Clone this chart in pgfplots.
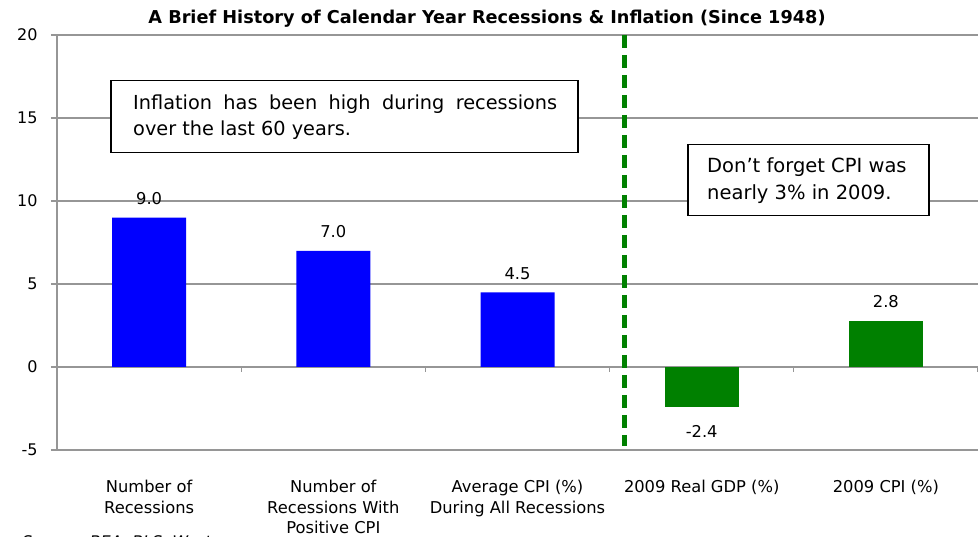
\documentclass[border=0pt]{standalone}
\usepackage{fontspec}
\setmainfont{DejaVu Sans}
\usepackage{pgfplots}
\pgfplotsset{compat=1.18}
\definecolor{barblue}{RGB}{0,0,255}
\definecolor{bargreen}{RGB}{0,128,0}
\definecolor{gridgray}{RGB}{150,150,150}
\begin{document}
\begin{tikzpicture}[x=1pt,y=1pt]
\useasboundingbox (0,0) rectangle (978,537);
\begin{axis}[
  at={(57pt,87pt)}, anchor=south west,
  scale only axis, width=921pt, height=415pt,
  xmin=-0.5, xmax=4.5, ymin=-5, ymax=20,
  ytick={-5,0,5,10,15,20},
  xtick={0,1,2,3,4},
  xticklabels={{Number of\\Recessions},{Number of\\Recessions With\\Positive CPI},{Average CPI (\%)\\During All Recessions},{2009 Real GDP (\%)},{2009 CPI (\%)}},
  xticklabel style={align=center, font=\fontsize{16.3}{20.5}\selectfont, yshift=-21pt},
  yticklabel style={font=\fontsize{16}{18}\selectfont, xshift=-10pt},
  /pgf/number format/assume math mode=true,
  axis x line*=bottom, axis y line*=left,
  x axis line style={draw=none},
  y axis line style={gridgray, line width=1.3pt, -},
  xtick style={draw=none},
  ytick style={gridgray, line width=1.3pt},
  tick align=outside, major tick length=6pt,
  ymajorgrids, grid style={gridgray, line width=1.3pt},
  ybar, bar width=74pt, bar shift=0pt,
  nodes near coords,
  nodes near coords align=vertical,
  every node near coord/.append style={font=\fontsize{16.3}{18}\selectfont, inner sep=0pt, outer sep=13pt, /pgf/number format/fixed, /pgf/number format/fixed zerofill, /pgf/number format/precision=1, /pgf/number format/assume math mode=true},
  clip=false,
]
\addplot[fill=barblue, draw=none] coordinates {(0,9.0) (1,7.0) (2,4.5)};
\addplot[fill=bargreen, draw=none, every node near coord/.append style={outer sep=19pt}] coordinates {(3,-2.4)};
\addplot[fill=bargreen, draw=none] coordinates {(4,2.8)};
\foreach \xx in {-0.5,0.5,1.5,2.5,3.5,4.5} {
  \edef\tmp{\noexpand\draw[gridgray, line width=1.3pt] (axis cs:\xx,0) -- ([yshift=-5pt]axis cs:\xx,0);}
  \tmp
}
\draw[bargreen, line width=5pt, dash pattern=on 13pt off 7pt] (axis cs:2.58,20) -- (axis cs:2.58,-4.75);
\end{axis}
\node[font=\bfseries\fontsize{17.7}{20}\selectfont, anchor=base] at (487,513) {A Brief History of Calendar Year Recessions \& Inflation (Since 1948)};
\node[draw, line width=1.5pt, fill=white, anchor=north west, minimum width=467pt, minimum height=72pt, inner sep=0pt] at (110,457) {};
\node[font=\fontsize{19.3}{26}\selectfont, anchor=base west, inner sep=0pt] at (133,427) {\makebox[424pt][s]{Inflation has been high during recessions}};
\node[font=\fontsize{19.3}{26}\selectfont, anchor=base west, inner sep=0pt] at (133,401) {over the last 60 years.};
\node[draw, line width=1.5pt, fill=white, anchor=north west, minimum width=241pt, minimum height=71pt, inner sep=0pt] at (687,393) {};
\node[font=\fontsize{19.5}{26}\selectfont, anchor=base west, inner sep=0pt] at (707,364) {Don’t forget CPI was};
\node[font=\fontsize{19.5}{26}\selectfont, anchor=base west, inner sep=0pt] at (707,337) {nearly 3\% in 2009.};
\node[font=\itshape\fontsize{16}{18}\selectfont, anchor=base west, inner sep=0pt] at (22,-11) {Source: BEA, BLS, Wurts};
\end{tikzpicture}
\end{document}
